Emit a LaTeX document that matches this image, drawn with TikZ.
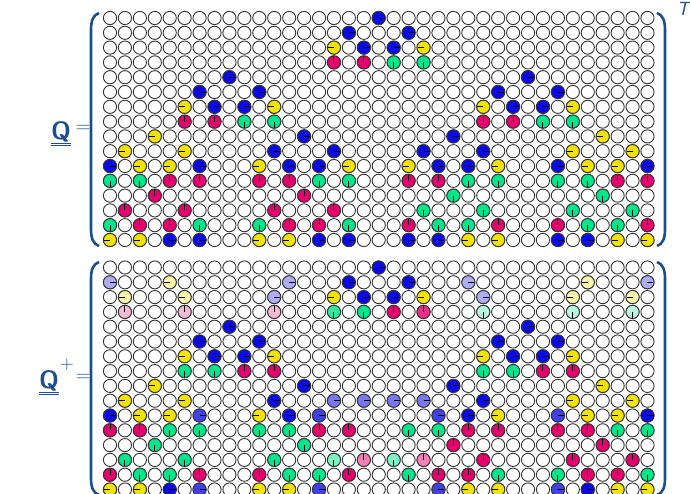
\documentclass[tikz,border=0pt]{standalone}
\usepackage{fontspec}
\usepackage{tikz}
\definecolor{cB}{HTML}{0A0AE6}
\definecolor{cY}{HTML}{F4E300}
\definecolor{cP}{HTML}{E6006F}
\definecolor{cG}{HTML}{00E68A}
\colorlet{lB}{cB!33!white}
\colorlet{lY}{cY!33!white}
\colorlet{lP}{cP!28!white}
\colorlet{lG}{cG!28!white}
\colorlet{mB}{cB!55!white}
\colorlet{sB}{cB!78!white}
\colorlet{mG}{cG!50!white}
\colorlet{mP}{cP!50!white}
\colorlet{sG}{cG!82!white}
\colorlet{sP}{cP!82!white}
\definecolor{tx}{HTML}{1D4E8C}
\tikzset{
  ring/.style={draw=black!80, line width=0.9pt},
  tk/.style={draw=black, line width=1pt},
  brk/.style={draw=tx, line width=2.6pt},
  lbl/.style={text=tx, font=\fontsize{25}{30}\selectfont\sffamily\bfseries, inner sep=0pt},
  sym/.style={text=tx, font=\fontsize{20}{24}\selectfont, inner sep=0pt},
}
\newcommand\phcell[5]{%
  \pgfmathsetmacro\xx{110+14.93*#2}%
  \pgfmathsetmacro\yy{#1+14.8*#3}%
  \fill[#4] (\xx,\yy) circle (6.6);
  \draw[ring] (\xx,\yy) circle (6.6);
  \draw[tk] (\xx,\yy) -- ++(-#5:6);
}
\begin{document}
\begin{tikzpicture}[x=1pt,y=-1pt]
\useasboundingbox (0,0) rectangle (690,493);
\begin{scope}
\clip (0,0) rectangle (690,493);
% empty grids
\foreach \r in {0,...,15}{
  \foreach \c in {0,...,36}{
    \draw[ring, fill=white] ({110+14.93*\c},{18+14.8*\r}) circle (6.6);
    \draw[ring, fill=white] ({110+14.93*\c},{267.5+14.8*\r}) circle (6.6);
  }
}
% top matrix entries: row/col/colour/angle
\foreach \r/\c/\k/\a in {
 0/18/cB/0,
 1/16/cB/0, 1/20/cB/0,
 2/15/cY/180, 2/17/cB/0, 2/19/cB/0, 2/21/cY/180,
 3/15/cP/90, 3/17/cP/90, 3/19/cG/270, 3/21/cG/270,
 4/8/cB/0, 4/28/cB/0,
 5/6/cB/0, 5/10/cB/0, 5/26/cB/0, 5/30/cB/0,
 6/5/cY/180, 6/7/cB/0, 6/9/cB/0, 6/11/cY/180, 6/25/cY/180, 6/27/cB/0, 6/29/cB/0, 6/31/cY/180,
 7/5/cP/90, 7/7/cP/90, 7/9/cG/270, 7/11/cG/270, 7/25/cP/90, 7/27/cP/90, 7/29/cG/270, 7/31/cG/270,
 8/3/cY/180, 8/13/cB/0, 8/23/cB/0, 8/33/cY/180,
 9/1/cY/180, 9/5/cY/180, 9/11/cB/0, 9/15/cB/0, 9/21/cB/0, 9/25/cB/0, 9/31/cY/180, 9/35/cY/180,
 10/0/cB/0, 10/2/cY/180, 10/4/cY/180, 10/6/cB/0, 10/10/cY/180, 10/12/cB/0, 10/14/cB/0, 10/16/cY/180,
 10/20/cY/180, 10/22/cB/0, 10/24/cB/0, 10/26/cY/180, 10/30/cB/0, 10/32/cY/180, 10/34/cY/180, 10/36/cB/0,
 11/0/cG/270, 11/2/cG/270, 11/4/cP/90, 11/6/cP/90, 11/10/cP/90, 11/12/cP/90, 11/14/cG/270, 11/16/cG/270,
 11/20/cP/90, 11/22/cP/90, 11/24/cG/270, 11/26/cG/270, 11/30/cG/270, 11/32/cG/270, 11/34/cP/90, 11/36/cP/90,
 12/3/cP/90, 12/13/cP/90, 12/23/cG/270, 12/33/cG/270,
 13/1/cP/90, 13/5/cP/90, 13/11/cP/90, 13/15/cP/90, 13/21/cG/270, 13/25/cG/270, 13/31/cG/270, 13/35/cG/270,
 14/0/cG/270, 14/2/cP/90, 14/4/cP/90, 14/6/cG/270, 14/10/cG/270, 14/12/cP/90, 14/14/cP/90, 14/16/cG/270,
 14/20/cP/90, 14/22/cG/270, 14/24/cG/270, 14/26/cP/90, 14/30/cP/90, 14/32/cG/270, 14/34/cG/270, 14/36/cP/90,
 15/0/cY/180, 15/2/cY/180, 15/4/cB/0, 15/6/cB/0, 15/10/cY/180, 15/12/cY/180, 15/14/cB/0, 15/16/cB/0,
 15/20/cB/0, 15/22/cB/0, 15/24/cY/180, 15/26/cY/180, 15/30/cB/0, 15/32/cB/0, 15/34/cY/180, 15/36/cY/180}
 {\phcell{18}{\c}{\r}{\k}{\a}}
% bottom matrix entries
\foreach \r/\c/\k/\a in {
 0/18/cB/0,
 1/0/lB/0, 1/4/lY/180, 1/12/lB/0, 1/16/cB/0, 1/20/cB/0, 1/24/lB/0, 1/32/lY/180, 1/36/lB/0,
 2/1/lY/180, 2/5/lY/180, 2/11/lB/0, 2/15/cY/180, 2/17/cB/0, 2/19/cB/0, 2/21/cY/180, 2/25/lB/0, 2/31/lY/180, 2/35/lY/180,
 3/1/lP/90, 3/5/lP/90, 3/11/lP/90, 3/15/sG/270, 3/17/cG/270, 3/19/cP/90, 3/21/sP/90, 3/25/lG/270, 3/31/lG/270, 3/35/lG/270,
 4/8/cB/0, 4/28/cB/0,
 5/6/cB/0, 5/10/cB/0, 5/26/cB/0, 5/30/cB/0,
 6/5/cY/180, 6/7/cB/0, 6/9/cB/0, 6/11/cY/180, 6/25/cY/180, 6/27/cB/0, 6/29/cB/0, 6/31/cY/180,
 7/5/cG/270, 7/7/cG/270, 7/9/cP/90, 7/11/cP/90, 7/25/cG/270, 7/27/cG/270, 7/29/cP/90, 7/31/cP/90,
 8/3/cY/180, 8/13/cB/0, 8/23/cB/0, 8/33/cY/180,
 9/1/cY/180, 9/5/cY/180, 9/11/cB/0, 9/15/mB/0, 9/17/mB/0, 9/19/mB/0, 9/21/mB/0, 9/25/cB/0, 9/31/cY/180, 9/35/cY/180,
 10/0/cB/0, 10/2/cY/180, 10/4/cY/180, 10/6/sB/0, 10/10/cY/180, 10/12/cB/0, 10/14/sB/0, 10/22/sB/0,
 10/24/cB/0, 10/26/cY/180, 10/30/sB/0, 10/32/cY/180, 10/34/cY/180, 10/36/cB/0,
 11/0/cP/90, 11/2/cP/90, 11/4/cG/270, 11/6/cG/270, 11/10/cG/270, 11/12/cG/270, 11/14/cP/90, 11/16/cP/90,
 11/20/cG/270, 11/22/cG/270, 11/24/cP/90, 11/26/cP/90, 11/30/cP/90, 11/32/cP/90, 11/34/cG/270, 11/36/cG/270,
 12/3/cG/270, 12/13/cG/270, 12/23/cP/90, 12/33/cP/90,
 13/1/cG/270, 13/5/cG/270, 13/11/cG/270, 13/15/mG/270, 13/17/mP/90, 13/19/mG/270, 13/21/mP/90, 13/25/cP/90, 13/31/cP/90, 13/35/cP/90,
 14/0/cP/90, 14/2/cG/270, 14/4/cG/270, 14/6/cP/90, 14/10/cP/90, 14/12/cG/270, 14/14/cG/270, 14/16/cP/90,
 14/20/cG/270, 14/22/cP/90, 14/24/cP/90, 14/26/cG/270, 14/30/cG/270, 14/32/cP/90, 14/34/cP/90, 14/36/cG/270,
 15/0/cY/180, 15/2/cY/180, 15/4/cB/0, 15/6/sB/0, 15/10/cY/180, 15/12/cY/180, 15/14/sB/0, 15/22/sB/0,
 15/24/cY/180, 15/26/cY/180, 15/30/sB/0, 15/32/cB/0, 15/34/cY/180, 15/36/cY/180}
 {\phcell{267.5}{\c}{\r}{\k}{\a}}
% brackets
\draw[brk] (99,13) .. controls (93,15) and (91,21) .. (91,30) -- (91,229) .. controls (91,238) and (93,244) .. (99,246);
\draw[brk] (657,13) .. controls (663,15) and (665,21) .. (665,30) -- (665,229) .. controls (665,238) and (663,244) .. (657,246);
\draw[brk] (99,262) .. controls (93,264) and (91,270) .. (91,279) -- (91,478) .. controls (91,487) and (93,493) .. (99,495);
\draw[brk] (657,262) .. controls (663,264) and (665,270) .. (665,279) -- (665,478) .. controls (665,487) and (663,493) .. (657,495);
\end{scope}
% labels
\node[lbl] (q1) at (61,134) {\underline{\underline{Q}}};
\node[sym] (eq1) at (83,129) {=};
\node[text=tx, font=\fontsize{19}{22}\selectfont\sffamily\itshape, inner sep=0pt] (tt) at (683,9) {T};
\node[lbl] (q2) at (49,383) {\underline{\underline{Q}}};
\node[text=tx, font=\fontsize{19}{22}\selectfont, inner sep=0pt] (pl) at (67,365) {+};
\node[sym] (eq2) at (83,378) {=};
\end{tikzpicture}
\end{document}
